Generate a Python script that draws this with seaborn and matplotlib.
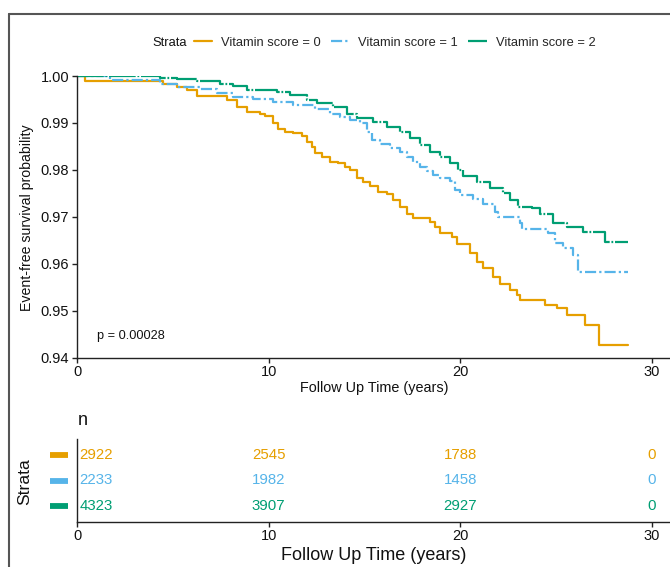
import matplotlib
matplotlib.use("Agg")
import matplotlib.pyplot as plt
from matplotlib.lines import Line2D
import matplotlib.transforms as mtransforms
import seaborn as sns
import pandas as pd

# ---- data ----
groups = ["Vitamin score = 0", "Vitamin score = 1", "Vitamin score = 2"]
colors = ["#E69F00", "#56B4E9", "#009E73"]

t0 = [0, 0.42, 4.50, 5.20, 5.72, 6.24, 7.81, 8.33, 8.85, 9.55, 9.81, 10.24, 10.50, 10.85,
      11.28, 11.72, 11.98, 12.24, 12.42, 12.76, 13.20, 13.63, 13.98, 14.24, 14.59, 14.94,
      15.29, 15.72, 16.16, 16.51, 16.85, 17.20, 17.55, 18.42, 18.68, 18.94, 19.55, 19.81,
      20.50, 20.85, 21.19, 21.72, 22.07, 22.59, 22.94, 23.11, 24.41, 25.02, 25.55, 26.50,
      27.25, 28.73]
s0 = [1.0, 0.9990, 0.9983, 0.9977, 0.9970, 0.9958, 0.9949, 0.9935, 0.9923, 0.9920, 0.9915,
      0.9899, 0.9888, 0.9881, 0.9878, 0.9872, 0.9860, 0.9849, 0.9835, 0.9827, 0.9817, 0.9814,
      0.9807, 0.9800, 0.9782, 0.9775, 0.9765, 0.9753, 0.9748, 0.9736, 0.9721, 0.9707, 0.9697,
      0.9690, 0.9679, 0.9665, 0.9658, 0.9643, 0.9622, 0.9604, 0.9590, 0.9572, 0.9558, 0.9544,
      0.9533, 0.9522, 0.9512, 0.9505, 0.9490, 0.9469, 0.9426, 0.9426]

t1 = [0, 1.72, 4.33, 5.20, 6.42, 7.29, 8.15, 9.20, 10.24, 11.28, 12.40, 13.20, 13.72, 14.24,
      14.76, 15.11, 15.37, 15.81, 16.33, 16.85, 17.20, 17.55, 17.90, 18.24, 18.59, 18.94,
      19.46, 19.72, 19.98, 20.68, 21.20, 21.81, 21.98, 23.11, 23.20, 24.59, 24.94, 25.37,
      25.89, 26.15, 28.73]
s1 = [1.0, 0.9991, 0.9984, 0.9977, 0.9972, 0.9963, 0.9955, 0.9950, 0.9945, 0.9938, 0.9930,
      0.9920, 0.9912, 0.9906, 0.9899, 0.9881, 0.9864, 0.9855, 0.9846, 0.9839, 0.9828, 0.9817,
      0.9807, 0.9798, 0.9789, 0.9782, 0.9777, 0.9757, 0.9746, 0.9739, 0.9728, 0.9710, 0.9700,
      0.9687, 0.9675, 0.9665, 0.9645, 0.9633, 0.9618, 0.9583, 0.9583]

t2 = [0, 4.33, 5.20, 6.24, 7.46, 8.15, 8.85, 10.42, 11.11, 11.98, 12.50, 13.37, 14.07, 14.59,
      15.46, 16.16, 16.85, 17.37, 17.90, 18.42, 18.94, 19.46, 19.90, 20.15, 20.85, 21.54,
      22.24, 22.59, 23.02, 23.72, 24.15, 24.85, 25.55, 26.42, 27.55, 28.73]
s2 = [1.0, 0.9995, 0.9993, 0.9990, 0.9984, 0.9979, 0.9970, 0.9965, 0.9959, 0.9949, 0.9942,
      0.9935, 0.9920, 0.9910, 0.9903, 0.9892, 0.9881, 0.9867, 0.9853, 0.9839, 0.9828, 0.9814,
      0.9800, 0.9786, 0.9775, 0.9761, 0.9750, 0.9736, 0.9720, 0.9718, 0.9707, 0.9687, 0.9679,
      0.9668, 0.9647, 0.9647]

risk_times = [0, 10, 20, 30]
risk0 = [2922, 2545, 1788, 0]
risk1 = [2233, 1982, 1458, 0]
risk2 = [4323, 3907, 2927, 0]

xticks = [0, 10, 20, 30]
yticks = [0.94, 0.95, 0.96, 0.97, 0.98, 0.99, 1.00]

# ---- style ----
sns.set_theme(style="ticks")
plt.rcParams["font.family"] = ["Liberation Sans", "DejaVu Sans"]
plt.rcParams["axes.edgecolor"] = "#222222"
plt.rcParams["xtick.color"] = "#222222"
plt.rcParams["ytick.color"] = "#222222"

W, H = 670, 567
fig = plt.figure(figsize=(W / 100, H / 100), dpi=100)

def fx(px):
    return px / W

def fy(py):
    return 1 - py / H

# main axes
x0px, ppu = 77, 19.17
xmax = 31
ax = fig.add_axes([fx(x0px), fy(357.7), (xmax * ppu) / W, (357.7 - 76) / H])

times = [t0, t1, t2]
survs = [s0, s1, s2]
dash_styles = [None, (5, 1.4, 1, 1.4), (12, 0.8, 0.8, 0.8)]
handles = []
for g, c, t, s, d in zip(groups, colors, times, survs, dash_styles):
    df = pd.DataFrame({"time": t, "surv": s})
    sns.lineplot(data=df, x="time", y="surv", ax=ax, color=c, linewidth=1.6,
                 drawstyle="steps-post", estimator=None, sort=True, legend=False)
    ln = ax.lines[-1]
    if d is not None:
        ln.set_dashes(d)
    handles.append(ln)

ax.set_xlim(0, xmax)
ax.set_ylim(0.94, 1.0)
ax.set_xticks(xticks)
ax.set_yticks(yticks)
ax.set_yticklabels([f"{v:.2f}" for v in yticks])
ax.tick_params(axis="both", labelsize=10.5, length=3.5, width=1, pad=2, colors="#222222")
ax.tick_params(axis="both", labelcolor="#111111")
ax.set_xlabel("")
ax.set_ylabel("")
for sp in ["top", "right"]:
    ax.spines[sp].set_visible(False)
for sp in ["left", "bottom"]:
    ax.spines[sp].set_linewidth(1.0)

ax.text(1.04, 0.9446, "p = 0.00028", fontsize=9.2, ha="left", va="center", color="#111111")

fig.text(fx(26.7), fy(218), "Event-free survival probability", rotation=90,
         ha="center", va="center", fontsize=10.2, color="#111111")
fig.text(fx(374), fy(388), "Follow Up Time (years)", ha="center", va="center",
         fontsize=10.4, color="#111111")

# legend
fig.text(fx(152), fy(42.7), "Strata", ha="left", va="center", fontsize=9.3, color="#111111")
fig.legend(handles, groups, ncol=3, loc="center left",
           bbox_to_anchor=(fx(194), fy(42.7)), frameon=False, fontsize=9.3,
           handlelength=1.4, handletextpad=0.7, columnspacing=0.8, borderpad=0,
           borderaxespad=0)

# risk table
axt = fig.add_axes([fx(x0px), fy(521.7), (xmax * ppu) / W, (521.7 - 439.3) / H])
axt.set_xlim(0, xmax)
axt.set_ylim(0.4, 3.6)
rows = [risk0, risk1, risk2]
ypos = [3, 2, 1]
for yv, r, c in zip(ypos, rows, colors):
    for i, (tt, n) in enumerate(zip(risk_times, r)):
        if i == 0:
            axt.text(tt + 0.12, yv, str(n), ha="left", va="center", color=c, fontsize=10.8)
        else:
            axt.text(tt, yv, str(n), ha="center", va="center", color=c, fontsize=10.8)
axt.set_xticks(xticks)
axt.set_yticks(ypos)
axt.set_yticklabels([])
# colour keys in place of the strata names
blend = mtransforms.blended_transform_factory(axt.transAxes, axt.transData)
axw = xmax * ppu
for yv, c in zip(ypos, colors):
    axt.add_line(Line2D([(50 - x0px) / axw, (68 - x0px) / axw], [yv, yv], transform=blend,
                        color=c, lw=4.2, solid_capstyle="butt", clip_on=False))
axt.tick_params(axis="y", length=0, pad=6)
axt.tick_params(axis="x", labelsize=10.5, length=3.5, width=1, pad=2, labelcolor="#111111")
for sp in ["top", "right"]:
    axt.spines[sp].set_visible(False)
for sp in ["left", "bottom"]:
    axt.spines[sp].set_linewidth(1.0)
axt.set_xlabel("")
axt.set_ylabel("")

fig.text(fx(82.5), fy(420.7), "n", ha="center", va="center", fontsize=13, color="#111111")
fig.text(fx(25), fy(481.7), "Strata", rotation=90, ha="center", va="center",
         fontsize=12.6, color="#111111")
fig.text(fx(374), fy(555), "Follow Up Time (years)", ha="center", va="center",
         fontsize=13, color="#111111")

# outer frame (top and left edges visible)
fig.add_artist(Line2D([fx(9), fx(9)], [0, fy(14)], transform=fig.transFigure,
                      color="#555555", lw=1.5))
fig.add_artist(Line2D([fx(9), 1], [fy(14), fy(14)], transform=fig.transFigure,
                      color="#555555", lw=1.5))

fig.savefig("out.png", dpi=100)
